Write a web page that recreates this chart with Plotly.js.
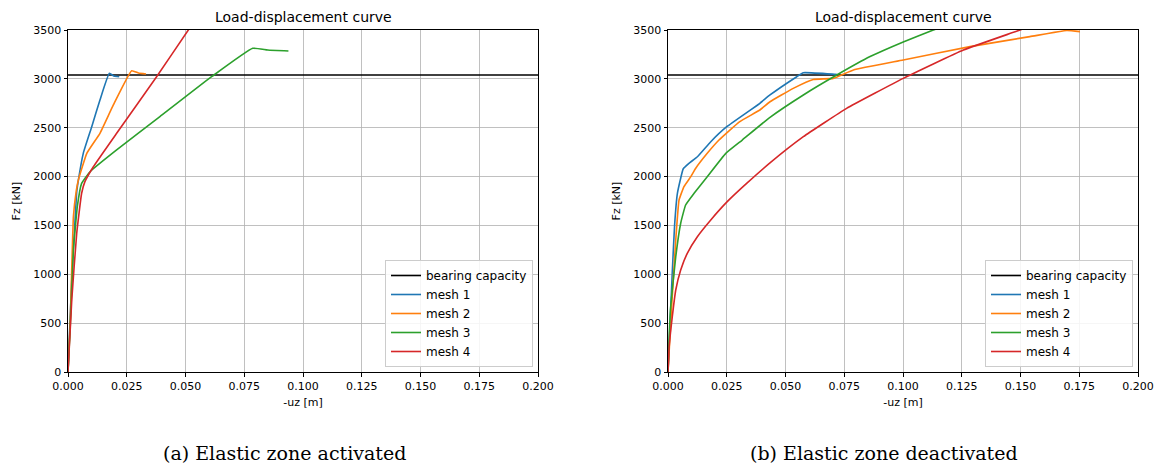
<!DOCTYPE html>
<html><head><meta charset="utf-8">
<script src="https://cdn.plot.ly/plotly-3.0.1.min.js"></script>
<style>body{margin:0;background:#fff}#plot{width:1158px;height:465px}</style>
</head><body><div id="plot"></div>
<script>
const bearingCapacity = 3040;
const xRange = [0, 0.2];

// (a) Elastic zone activated
const a_mesh1_x = [0, 0.001, 0.002, 0.003, 0.0037, 0.0044, 0.0065, 0.0101, 0.0136, 0.0176, 0.0195, 0.0218];
const a_mesh1_y = [0, 600, 1150, 1555, 1840, 1960, 2238, 2510, 2784, 3057, 3030, 3022];
const a_mesh2_x = [0, 0.001, 0.0023, 0.0035, 0.0044, 0.008, 0.0136, 0.0193, 0.0271, 0.030, 0.0332];
const a_mesh2_y = [0, 550, 1590, 1850, 1965, 2238, 2443, 2733, 3083, 3060, 3050];
const a_mesh3_x = [0, 0.001, 0.0023, 0.004, 0.0058, 0.0094, 0.0207, 0.0391, 0.0611, 0.0786, 0.085, 0.0938];
const a_mesh3_y = [0, 500, 1249, 1700, 1931, 2050, 2272, 2613, 3022, 3313, 3295, 3285];
const a_mesh4_x = [0, 0.0016, 0.0037, 0.0058, 0.0072, 0.0108, 0.0207, 0.0377, 0.0512, 0.054];
const a_mesh4_y = [0, 737, 1419, 1829, 1948, 2101, 2443, 3022, 3500, 3600];

// (b) Elastic zone deactivated
const b_mesh1_x = [0, 0.0018, 0.0028, 0.004, 0.0065, 0.0089, 0.0125, 0.0182, 0.025, 0.0391, 0.0434, 0.0548, 0.0576, 0.0711, 0.072];
const b_mesh1_y = [0, 1010, 1500, 1829, 2080, 2135, 2203, 2357, 2510, 2750, 2835, 3022, 3063, 3046, 3045];
const b_mesh2_x = [0, 0.0015, 0.0033, 0.0047, 0.0068, 0.0097, 0.0118, 0.0167, 0.0217, 0.0304, 0.0391, 0.0434, 0.0533, 0.0618, 0.0703, 0.0789, 0.1001, 0.1285, 0.154, 0.1697, 0.1753];
const b_mesh2_y = [0, 650, 1351, 1760, 1897, 1999, 2085, 2238, 2374, 2560, 2681, 2766, 2903, 2994, 3005, 3091, 3193, 3330, 3432, 3495, 3483];
const b_mesh3_x = [0, 0.0004, 0.00113, 0.0033, 0.0054, 0.0075, 0.0111, 0.0167, 0.0246, 0.0316, 0.0434, 0.0576, 0.0718, 0.086, 0.1001, 0.1129, 0.118];
const b_mesh3_y = [0, 300, 668, 1180, 1522, 1709, 1829, 1999, 2238, 2374, 2606, 2835, 3039, 3228, 3378, 3500, 3540];
const b_mesh4_x = [0, 0.0005, 0.0018, 0.0033, 0.0054, 0.0082, 0.0125, 0.0182, 0.0252, 0.0337, 0.0434, 0.0576, 0.076, 0.1001, 0.1257, 0.1498, 0.153];
const b_mesh4_y = [0, 260, 560, 839, 1044, 1215, 1385, 1556, 1743, 1935, 2140, 2408, 2698, 3005, 3295, 3500, 3530];

const seriesNames = ['bearing capacity', 'mesh 1', 'mesh 2', 'mesh 3', 'mesh 4'];
const colors = ['#000000', '#1f77b4', '#ff7f0e', '#2ca02c', '#d62728'];
const xTicks = [0, 0.025, 0.05, 0.075, 0.1, 0.125, 0.15, 0.175, 0.2];
const xTickText = ['0.000','0.025','0.050','0.075','0.100','0.125','0.150','0.175','0.200'];
const yTicks = [0, 500, 1000, 1500, 2000, 2500, 3000, 3500];
const panelTitle = 'Load-displacement curve';
const xLabel = '-uz [m]';
const yLabel = 'Fz [kN]';
const captions = ['(a) Elastic zone activated', '(b) Elastic zone deactivated'];

const panels = [
  {xs:[a_mesh1_x,a_mesh2_x,a_mesh3_x,a_mesh4_x], ys:[a_mesh1_y,a_mesh2_y,a_mesh3_y,a_mesh4_y], xa:'x', ya:'y', legend:'legend'},
  {xs:[b_mesh1_x,b_mesh2_x,b_mesh3_x,b_mesh4_x], ys:[b_mesh1_y,b_mesh2_y,b_mesh3_y,b_mesh4_y], xa:'x2', ya:'y2', legend:'legend2'}
];

const traces = [];
panels.forEach(p => {
  traces.push({x: xRange, y: [bearingCapacity, bearingCapacity], xaxis:p.xa, yaxis:p.ya, mode:'lines',
    name: seriesNames[0], line:{color:colors[0], width:1.6}, legend:p.legend});
  for (let i=0;i<4;i++){
    traces.push({x:p.xs[i], y:p.ys[i], xaxis:p.xa, yaxis:p.ya, mode:'lines', name:seriesNames[i+1],
      line:{color:colors[i+1], width:1.6, shape:'spline', smoothing:0.35}, legend:p.legend});
  }
});

const W=1158, H=465;
const fnt = {family:'DejaVu Sans', size:11, color:'#000'};
function xaxis(dom, anchor){
  return {domain:dom, anchor:anchor, range:xRange, tickvals:xTicks, ticktext:xTickText,
    showgrid:true, gridcolor:'#b0b0b0', gridwidth:0.8, zeroline:false, showline:true, linecolor:'#000', linewidth:1,
    mirror:true, ticks:'outside', ticklen:3.5, tickcolor:'#000', tickfont:fnt,
    title:{text:xLabel, font:fnt, standoff:6}};
}
function yaxis(anchor){
  return {domain:[93/H, 435/H], anchor:anchor, range:[0,3500], tickvals:yTicks,
    showgrid:true, gridcolor:'#b0b0b0', gridwidth:0.8, zeroline:false, showline:true, linecolor:'#000', linewidth:1,
    mirror:true, ticks:'outside', ticklen:3.5, tickcolor:'#000', tickfont:fnt,
    title:{text:yLabel, font:fnt, standoff:10}};
}
const legendBase = {bgcolor:'rgba(255,255,255,0.85)', bordercolor:'#cccccc', borderwidth:1,
  font:{family:'DejaVu Sans', size:12, color:'#000'}, xanchor:'right', yanchor:'bottom', tracegroupgap:0};

const layout = {
  width:W, height:H, margin:{l:0,r:0,t:0,b:0}, paper_bgcolor:'#fff', plot_bgcolor:'#fff',
  showlegend:true,
  xaxis: xaxis([68/W, 538/W], 'y'),
  yaxis: yaxis('x'),
  xaxis2: xaxis([668/W, 1138/W], 'y2'),
  yaxis2: yaxis('x2'),
  legend: Object.assign({x:533/W, y:(465-367)/H}, legendBase),
  legend2: Object.assign({x:1133/W, y:(465-367)/H}, legendBase),
  annotations: [
    {text:panelTitle, xref:'paper', yref:'paper', x:303/W, y:(465-17)/H, xanchor:'center', yanchor:'middle', showarrow:false, font:{family:'DejaVu Sans', size:14, color:'#000'}},
    {text:panelTitle, xref:'paper', yref:'paper', x:903/W, y:(465-17)/H, xanchor:'center', yanchor:'middle', showarrow:false, font:{family:'DejaVu Sans', size:14, color:'#000'}},
    {text:captions[0], xref:'paper', yref:'paper', x:284/W, y:(465-453)/H, xanchor:'center', yanchor:'middle', showarrow:false, font:{family:'DejaVu Serif', size:19, color:'#000'}},
    {text:captions[1], xref:'paper', yref:'paper', x:884/W, y:(465-453)/H, xanchor:'center', yanchor:'middle', showarrow:false, font:{family:'DejaVu Serif', size:19, color:'#000'}}
  ]
};
Plotly.newPlot('plot', traces, layout, {displayModeBar:false, staticPlot:true});
</script></body></html>
